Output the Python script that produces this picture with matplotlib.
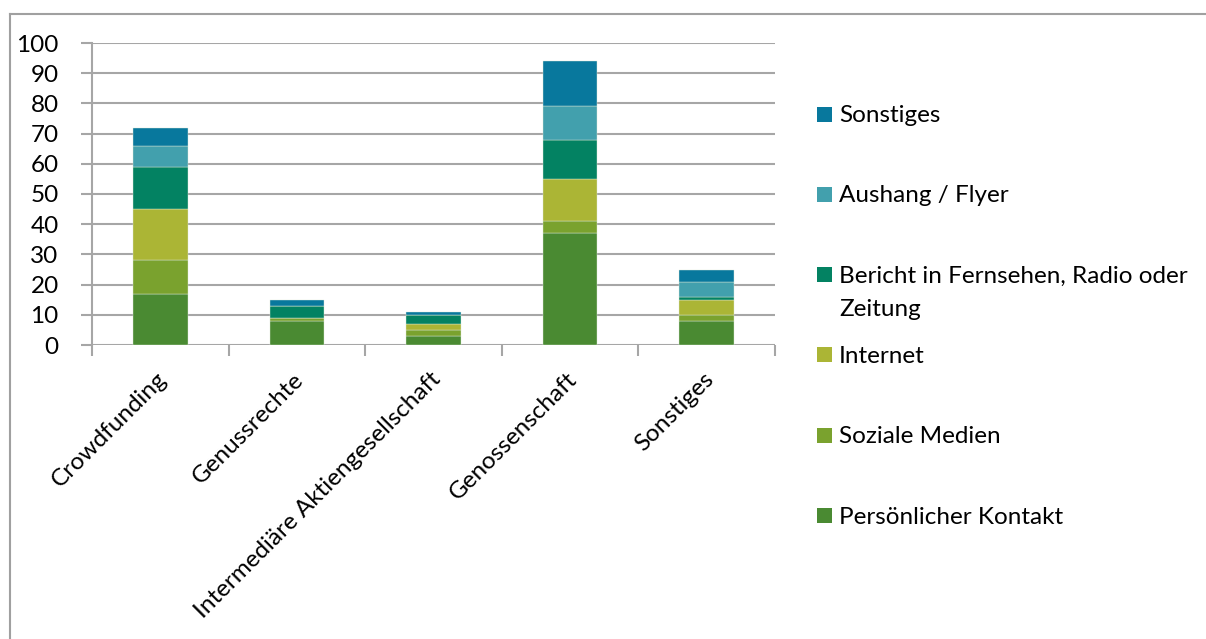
import matplotlib
matplotlib.use("Agg")
import matplotlib.pyplot as plt
import numpy as np
from matplotlib.lines import Line2D
from matplotlib.patches import Rectangle
from matplotlib.transforms import ScaledTranslation

plt.rcParams['font.family'] = ['Lato', 'DejaVu Sans']

# Data
categories = ['Crowdfunding', 'Genussrechte', 'Intermediäre Aktiengesellschaft',
              'Genossenschaft', 'Sonstiges']
series_names = ['Persönlicher Kontakt', 'Soziale Medien', 'Internet',
                'Bericht in Fernsehen, Radio oder Zeitung', 'Aushang / Flyer', 'Sonstiges']
persoenlich = [17, 8, 3, 37, 8]
soziale = [11, 1, 2, 4, 2]
internet = [17, 0, 2, 14, 5]
bericht = [14, 4, 3, 13, 1]
aushang = [7, 0, 0, 11, 5]
sonstiges = [6, 2, 1, 15, 4]
yticks = list(range(0, 101, 10))

colors = ['#4a8a32', '#7aa22e', '#abb535', '#038262', '#42a0ad', '#08789d']
grid_col = '#a6a6a6'
fsize = 17.5

W, H = 1206, 639
fig = plt.figure(figsize=(W / 100, H / 100), dpi=100)
ax = fig.add_axes([92 / W, 1 - 345 / H, (775 - 92) / W, (345 - 43) / H])

x = np.arange(len(categories))
bottom = np.zeros(len(categories))
for vals, col in zip([persoenlich, soziale, internet, bericht, aushang, sonstiges], colors):
    ax.bar(x, vals, width=0.4, bottom=bottom, color=col, edgecolor='#dfe8d8', linewidth=0.3)
    bottom += np.array(vals)

ax.set_xlim(-0.5, len(categories) - 0.5)
ax.set_ylim(0, 100)
ax.set_yticks(yticks)
ax.yaxis.grid(True, color=grid_col, linewidth=1.5)
ax.set_axisbelow(True)
for s in ['top', 'right', 'bottom']:
    ax.spines[s].set_visible(False)
ax.spines['left'].set_color(grid_col)
ax.spines['left'].set_linewidth(1.5)
ax.tick_params(axis='y', length=8, width=1.5, color=grid_col, labelsize=fsize, pad=16)

# category boundaries as minor ticks, labels on major positions
ax.set_xticks(np.arange(-0.5, len(categories), 1.0), minor=True)
ax.set_xticks(x)
ax.tick_params(axis='x', which='minor', length=8, width=1.5, color=grid_col)
ax.tick_params(axis='x', which='major', length=0, pad=17)
ax.set_xticklabels(categories, rotation=45, ha='right', rotation_mode='anchor', fontsize=fsize)
offset = ScaledTranslation(-4 / 100, 0, fig.dpi_scale_trans)
for lbl in ax.get_xticklabels():
    lbl.set_transform(lbl.get_transform() + offset)

# legend, top entry first
leg_names = list(reversed(series_names))
leg_cols = list(reversed(colors))
for i, (name, col) in enumerate(zip(leg_names, leg_cols)):
    yc = 114 + i * 80.3
    fig.add_artist(Rectangle((817 / W, 1 - (yc + 7.5) / H), 15 / W, 15 / H,
                             transform=fig.transFigure, facecolor=col, edgecolor='none'))
    text = name.replace('Radio oder Zeitung', 'Radio oder\nZeitung')
    fig.text(839 / W, 1 - (yc - 9) / H, text, fontsize=fsize, va='top', ha='left',
             linespacing=1.72)

# outer border
fig.add_artist(Line2D([10 / W, 10 / W], [0, 1 - 14 / H], transform=fig.transFigure,
                      color='#a0a0a0', linewidth=1.5))
fig.add_artist(Line2D([10 / W, 1], [1 - 14 / H, 1 - 14 / H], transform=fig.transFigure,
                      color='#a0a0a0', linewidth=1.5))

fig.savefig('out.png', dpi=100)
